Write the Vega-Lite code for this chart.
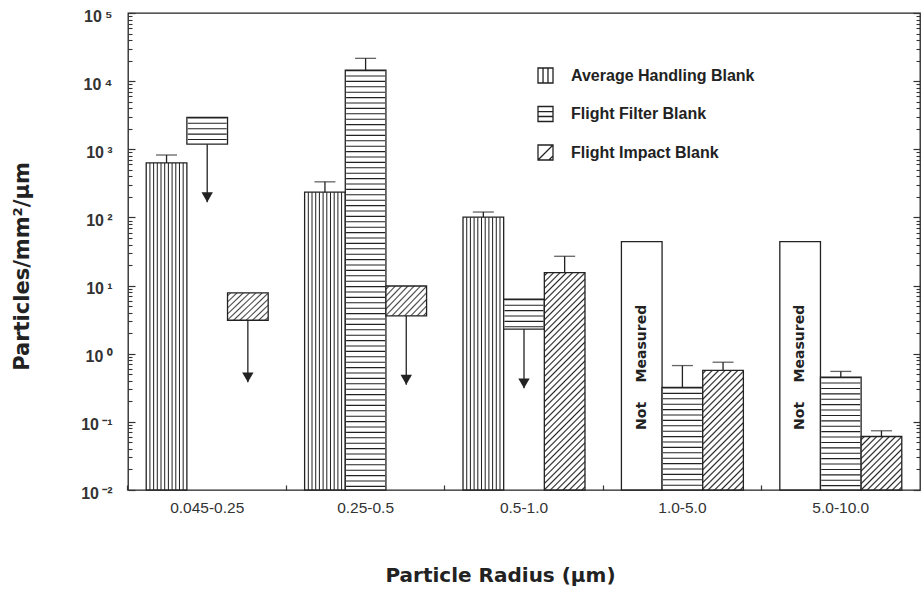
{
  "$schema": "https://vega.github.io/schema/vega-lite/v6.json",
  "width": 792,
  "height": 477,
  "autosize": {"type": "none"},
  "padding": {"left": 128, "top": 13, "right": 2, "bottom": 111},
  "background": "white",
  "config": {
    "view": {"stroke": "#222", "strokeWidth": 1.3},
    "axis": {"grid": false, "domain": false}
  },
  "data": {
    "values": [
      {"cat": "0.045-0.25", "series": "Average Handling Blank", "lo": 0.01, "hi": 630, "err": 824},
      {"cat": "0.045-0.25", "series": "Flight Filter Blank", "lo": 1190, "hi": 2940, "tip": 167},
      {"cat": "0.045-0.25", "series": "Flight Impact Blank", "lo": 3.1, "hi": 7.8, "tip": 0.38},
      {"cat": "0.25-0.5", "series": "Average Handling Blank", "lo": 0.01, "hi": 235, "err": 333},
      {"cat": "0.25-0.5", "series": "Flight Filter Blank", "lo": 0.01, "hi": 14550, "err": 21600},
      {"cat": "0.25-0.5", "series": "Flight Impact Blank", "lo": 3.6, "hi": 9.85, "tip": 0.35},
      {"cat": "0.5-1.0", "series": "Average Handling Blank", "lo": 0.01, "hi": 101, "err": 120},
      {"cat": "0.5-1.0", "series": "Flight Filter Blank", "lo": 2.3, "hi": 6.3, "tip": 0.31},
      {"cat": "0.5-1.0", "series": "Flight Impact Blank", "lo": 0.01, "hi": 15.5, "err": 26.9},
      {"cat": "1.0-5.0", "series": "Average Handling Blank", "lo": 0.01, "hi": 44, "note": "Not\u00a0\u00a0\u00a0\u00a0Measured"},
      {"cat": "1.0-5.0", "series": "Flight Filter Blank", "lo": 0.01, "hi": 0.32, "err": 0.67},
      {"cat": "1.0-5.0", "series": "Flight Impact Blank", "lo": 0.01, "hi": 0.57, "err": 0.75},
      {"cat": "5.0-10.0", "series": "Average Handling Blank", "lo": 0.01, "hi": 44, "note": "Not\u00a0\u00a0\u00a0\u00a0Measured"},
      {"cat": "5.0-10.0", "series": "Flight Filter Blank", "lo": 0.01, "hi": 0.454, "err": 0.55},
      {"cat": "5.0-10.0", "series": "Flight Impact Blank", "lo": 0.01, "hi": 0.061, "err": 0.074}
    ]
  },
  "resolve": {"axis": {"x": "independent", "y": "independent"}},
  "layer": [
    {
      "mark": {"type": "bar", "stroke": "#222", "strokeWidth": 1.3},
      "encoding": {
        "x": {
          "field": "cat", "type": "nominal",
          "scale": {"type": "band", "domain": ["0.045-0.25", "0.25-0.5", "0.5-1.0", "1.0-5.0", "5.0-10.0"], "paddingInner": 0.23, "paddingOuter": 0.115},
          "axis": {
            "orient": "bottom", "title": "Particle Radius (μm)",
            "labelFont": "Liberation Sans", "labelFontSize": 15.5, "labelColor": "#333", "labelAngle": 0,
            "labelBaseline": "top", "labelPadding": 10, "ticks": false,
            "domain": false,
            "titleFont": "DejaVu Sans", "titleFontSize": 20, "titleFontWeight": "bold", "titleColor": "#222",
            "titleX": 372, "titleY": 91, "titleBaseline": "alphabetic", "titleAlign": "center"
          }
        },
        "xOffset": {
          "field": "series", "type": "nominal",
          "scale": {"domain": ["Average Handling Blank", "Flight Filter Blank", "Flight Impact Blank"], "paddingInner": 0, "paddingOuter": 0}
        },
        "y": {
          "field": "hi", "type": "quantitative",
          "scale": {"type": "log", "domain": [0.01, 100000], "nice": false},
          "axis": {
            "orient": "left",
            "values": [0.01, 0.1, 1, 10, 100, 1000, 10000, 100000],
            "labelExpr": "'10\u2009' + ['⁻²','⁻¹','⁰','¹','²','³','⁴','⁵'][round(log(datum.value)/LN10)+2]",
            "labelFont": "Liberation Sans", "labelFontSize": 16, "labelFontWeight": "bold", "labelColor": "#333",
            "labelPadding": 23, "labelOffset": 3,
            "tickSize": -7, "tickColor": "#333", "tickWidth": 1.2,
            "title": "Particles/mm²/μm",
            "titleFont": "DejaVu Sans", "titleFontSize": 21, "titleFontWeight": "bold", "titleColor": "#222",
            "titleX": -100, "titleY": 253, "titleAngle": 270, "titleBaseline": "alphabetic", "titleAlign": "center"
          }
        },
        "y2": {"field": "lo"},
        "fill": {
          "condition": [
            {"test": "datum.series === 'Average Handling Blank' && !datum.note", "value": {"gradient": "linear", "x1": 0, "y1": 0, "x2": 1, "y2": 0, "stops": [
              {"offset": 0.0659, "color": "#fff"}, {"offset": 0.0909, "color": "#222"}, {"offset": 0.1159, "color": "#fff"},
              {"offset": 0.1568, "color": "#fff"}, {"offset": 0.1818, "color": "#222"}, {"offset": 0.2068, "color": "#fff"},
              {"offset": 0.2477, "color": "#fff"}, {"offset": 0.2727, "color": "#222"}, {"offset": 0.2977, "color": "#fff"},
              {"offset": 0.3386, "color": "#fff"}, {"offset": 0.3636, "color": "#222"}, {"offset": 0.3886, "color": "#fff"},
              {"offset": 0.4295, "color": "#fff"}, {"offset": 0.4545, "color": "#222"}, {"offset": 0.4795, "color": "#fff"},
              {"offset": 0.5205, "color": "#fff"}, {"offset": 0.5455, "color": "#222"}, {"offset": 0.5705, "color": "#fff"},
              {"offset": 0.6114, "color": "#fff"}, {"offset": 0.6364, "color": "#222"}, {"offset": 0.6614, "color": "#fff"},
              {"offset": 0.7023, "color": "#fff"}, {"offset": 0.7273, "color": "#222"}, {"offset": 0.7523, "color": "#fff"},
              {"offset": 0.7932, "color": "#fff"}, {"offset": 0.8182, "color": "#222"}, {"offset": 0.8432, "color": "#fff"},
              {"offset": 0.8841, "color": "#fff"}, {"offset": 0.9091, "color": "#222"}, {"offset": 0.9341, "color": "#fff"}
            ]}},
            {"test": "datum.series === 'Flight Impact Blank' && datum.cat === '0.5-1.0'", "value": {"gradient": "linear", "x1": 0, "y1": 0, "x2": 0.2147, "y2": 1.147, "stops": [
              {"offset": 0.0062, "color": "#fff"}, {"offset": 0.0122, "color": "#222"}, {"offset": 0.0182, "color": "#fff"},
              {"offset": 0.0306, "color": "#fff"}, {"offset": 0.0366, "color": "#222"}, {"offset": 0.0426, "color": "#fff"},
              {"offset": 0.0550, "color": "#fff"}, {"offset": 0.0610, "color": "#222"}, {"offset": 0.0670, "color": "#fff"},
              {"offset": 0.0794, "color": "#fff"}, {"offset": 0.0854, "color": "#222"}, {"offset": 0.0914, "color": "#fff"},
              {"offset": 0.1038, "color": "#fff"}, {"offset": 0.1098, "color": "#222"}, {"offset": 0.1158, "color": "#fff"},
              {"offset": 0.1281, "color": "#fff"}, {"offset": 0.1341, "color": "#222"}, {"offset": 0.1401, "color": "#fff"},
              {"offset": 0.1525, "color": "#fff"}, {"offset": 0.1585, "color": "#222"}, {"offset": 0.1645, "color": "#fff"},
              {"offset": 0.1769, "color": "#fff"}, {"offset": 0.1829, "color": "#222"}, {"offset": 0.1889, "color": "#fff"},
              {"offset": 0.2013, "color": "#fff"}, {"offset": 0.2073, "color": "#222"}, {"offset": 0.2133, "color": "#fff"},
              {"offset": 0.2257, "color": "#fff"}, {"offset": 0.2317, "color": "#222"}, {"offset": 0.2377, "color": "#fff"},
              {"offset": 0.2501, "color": "#fff"}, {"offset": 0.2561, "color": "#222"}, {"offset": 0.2621, "color": "#fff"},
              {"offset": 0.2745, "color": "#fff"}, {"offset": 0.2805, "color": "#222"}, {"offset": 0.2865, "color": "#fff"},
              {"offset": 0.2989, "color": "#fff"}, {"offset": 0.3049, "color": "#222"}, {"offset": 0.3109, "color": "#fff"},
              {"offset": 0.3233, "color": "#fff"}, {"offset": 0.3293, "color": "#222"}, {"offset": 0.3353, "color": "#fff"},
              {"offset": 0.3477, "color": "#fff"}, {"offset": 0.3537, "color": "#222"}, {"offset": 0.3597, "color": "#fff"},
              {"offset": 0.3720, "color": "#fff"}, {"offset": 0.3780, "color": "#222"}, {"offset": 0.3840, "color": "#fff"},
              {"offset": 0.3964, "color": "#fff"}, {"offset": 0.4024, "color": "#222"}, {"offset": 0.4084, "color": "#fff"},
              {"offset": 0.4208, "color": "#fff"}, {"offset": 0.4268, "color": "#222"}, {"offset": 0.4328, "color": "#fff"},
              {"offset": 0.4452, "color": "#fff"}, {"offset": 0.4512, "color": "#222"}, {"offset": 0.4572, "color": "#fff"},
              {"offset": 0.4696, "color": "#fff"}, {"offset": 0.4756, "color": "#222"}, {"offset": 0.4816, "color": "#fff"},
              {"offset": 0.4940, "color": "#fff"}, {"offset": 0.5000, "color": "#222"}, {"offset": 0.5060, "color": "#fff"},
              {"offset": 0.5184, "color": "#fff"}, {"offset": 0.5244, "color": "#222"}, {"offset": 0.5304, "color": "#fff"},
              {"offset": 0.5428, "color": "#fff"}, {"offset": 0.5488, "color": "#222"}, {"offset": 0.5548, "color": "#fff"},
              {"offset": 0.5672, "color": "#fff"}, {"offset": 0.5732, "color": "#222"}, {"offset": 0.5792, "color": "#fff"},
              {"offset": 0.5916, "color": "#fff"}, {"offset": 0.5976, "color": "#222"}, {"offset": 0.6036, "color": "#fff"},
              {"offset": 0.6160, "color": "#fff"}, {"offset": 0.6220, "color": "#222"}, {"offset": 0.6280, "color": "#fff"},
              {"offset": 0.6403, "color": "#fff"}, {"offset": 0.6463, "color": "#222"}, {"offset": 0.6523, "color": "#fff"},
              {"offset": 0.6647, "color": "#fff"}, {"offset": 0.6707, "color": "#222"}, {"offset": 0.6767, "color": "#fff"},
              {"offset": 0.6891, "color": "#fff"}, {"offset": 0.6951, "color": "#222"}, {"offset": 0.7011, "color": "#fff"},
              {"offset": 0.7135, "color": "#fff"}, {"offset": 0.7195, "color": "#222"}, {"offset": 0.7255, "color": "#fff"},
              {"offset": 0.7379, "color": "#fff"}, {"offset": 0.7439, "color": "#222"}, {"offset": 0.7499, "color": "#fff"},
              {"offset": 0.7623, "color": "#fff"}, {"offset": 0.7683, "color": "#222"}, {"offset": 0.7743, "color": "#fff"},
              {"offset": 0.7867, "color": "#fff"}, {"offset": 0.7927, "color": "#222"}, {"offset": 0.7987, "color": "#fff"},
              {"offset": 0.8111, "color": "#fff"}, {"offset": 0.8171, "color": "#222"}, {"offset": 0.8231, "color": "#fff"},
              {"offset": 0.8355, "color": "#fff"}, {"offset": 0.8415, "color": "#222"}, {"offset": 0.8475, "color": "#fff"},
              {"offset": 0.8599, "color": "#fff"}, {"offset": 0.8659, "color": "#222"}, {"offset": 0.8719, "color": "#fff"},
              {"offset": 0.8842, "color": "#fff"}, {"offset": 0.8902, "color": "#222"}, {"offset": 0.8962, "color": "#fff"},
              {"offset": 0.9086, "color": "#fff"}, {"offset": 0.9146, "color": "#222"}, {"offset": 0.9206, "color": "#fff"},
              {"offset": 0.9330, "color": "#fff"}, {"offset": 0.9390, "color": "#222"}, {"offset": 0.9450, "color": "#fff"},
              {"offset": 0.9574, "color": "#fff"}, {"offset": 0.9634, "color": "#222"}, {"offset": 0.9694, "color": "#fff"},
              {"offset": 0.9818, "color": "#fff"}, {"offset": 0.9878, "color": "#222"}, {"offset": 0.9938, "color": "#fff"}
            ]}},
            {"test": "datum.series === 'Flight Impact Blank' && datum.cat === '1.0-5.0'", "value": {"gradient": "linear", "x1": 0, "y1": 0, "x2": 0.4088, "y2": 1.2013, "stops": [
              {"offset": 0.01, "color": "#fff"}, {"offset": 0.02, "color": "#222"}, {"offset": 0.03, "color": "#fff"},
              {"offset": 0.05, "color": "#fff"}, {"offset": 0.06, "color": "#222"}, {"offset": 0.07, "color": "#fff"},
              {"offset": 0.09, "color": "#fff"}, {"offset": 0.10, "color": "#222"}, {"offset": 0.11, "color": "#fff"},
              {"offset": 0.13, "color": "#fff"}, {"offset": 0.14, "color": "#222"}, {"offset": 0.15, "color": "#fff"},
              {"offset": 0.17, "color": "#fff"}, {"offset": 0.18, "color": "#222"}, {"offset": 0.19, "color": "#fff"},
              {"offset": 0.21, "color": "#fff"}, {"offset": 0.22, "color": "#222"}, {"offset": 0.23, "color": "#fff"},
              {"offset": 0.25, "color": "#fff"}, {"offset": 0.26, "color": "#222"}, {"offset": 0.27, "color": "#fff"},
              {"offset": 0.29, "color": "#fff"}, {"offset": 0.30, "color": "#222"}, {"offset": 0.31, "color": "#fff"},
              {"offset": 0.33, "color": "#fff"}, {"offset": 0.34, "color": "#222"}, {"offset": 0.35, "color": "#fff"},
              {"offset": 0.37, "color": "#fff"}, {"offset": 0.38, "color": "#222"}, {"offset": 0.39, "color": "#fff"},
              {"offset": 0.41, "color": "#fff"}, {"offset": 0.42, "color": "#222"}, {"offset": 0.43, "color": "#fff"},
              {"offset": 0.45, "color": "#fff"}, {"offset": 0.46, "color": "#222"}, {"offset": 0.47, "color": "#fff"},
              {"offset": 0.49, "color": "#fff"}, {"offset": 0.50, "color": "#222"}, {"offset": 0.51, "color": "#fff"},
              {"offset": 0.53, "color": "#fff"}, {"offset": 0.54, "color": "#222"}, {"offset": 0.55, "color": "#fff"},
              {"offset": 0.57, "color": "#fff"}, {"offset": 0.58, "color": "#222"}, {"offset": 0.59, "color": "#fff"},
              {"offset": 0.61, "color": "#fff"}, {"offset": 0.62, "color": "#222"}, {"offset": 0.63, "color": "#fff"},
              {"offset": 0.65, "color": "#fff"}, {"offset": 0.66, "color": "#222"}, {"offset": 0.67, "color": "#fff"},
              {"offset": 0.69, "color": "#fff"}, {"offset": 0.70, "color": "#222"}, {"offset": 0.71, "color": "#fff"},
              {"offset": 0.73, "color": "#fff"}, {"offset": 0.74, "color": "#222"}, {"offset": 0.75, "color": "#fff"},
              {"offset": 0.77, "color": "#fff"}, {"offset": 0.78, "color": "#222"}, {"offset": 0.79, "color": "#fff"},
              {"offset": 0.81, "color": "#fff"}, {"offset": 0.82, "color": "#222"}, {"offset": 0.83, "color": "#fff"},
              {"offset": 0.85, "color": "#fff"}, {"offset": 0.86, "color": "#222"}, {"offset": 0.87, "color": "#fff"},
              {"offset": 0.89, "color": "#fff"}, {"offset": 0.90, "color": "#222"}, {"offset": 0.91, "color": "#fff"},
              {"offset": 0.93, "color": "#fff"}, {"offset": 0.94, "color": "#222"}, {"offset": 0.95, "color": "#fff"},
              {"offset": 0.97, "color": "#fff"}, {"offset": 0.98, "color": "#222"}, {"offset": 0.99, "color": "#fff"}
            ]}},
            {"test": "datum.series === 'Flight Impact Blank' && datum.cat === '5.0-10.0'", "value": {"gradient": "linear", "x1": 0, "y1": 0, "x2": 0.8486, "y2": 1.1155, "stops": [
              {"offset": 0.0163, "color": "#fff"}, {"offset": 0.0333, "color": "#222"}, {"offset": 0.0503, "color": "#fff"},
              {"offset": 0.0830, "color": "#fff"}, {"offset": 0.1000, "color": "#222"}, {"offset": 0.1170, "color": "#fff"},
              {"offset": 0.1497, "color": "#fff"}, {"offset": 0.1667, "color": "#222"}, {"offset": 0.1837, "color": "#fff"},
              {"offset": 0.2163, "color": "#fff"}, {"offset": 0.2333, "color": "#222"}, {"offset": 0.2503, "color": "#fff"},
              {"offset": 0.2830, "color": "#fff"}, {"offset": 0.3000, "color": "#222"}, {"offset": 0.3170, "color": "#fff"},
              {"offset": 0.3497, "color": "#fff"}, {"offset": 0.3667, "color": "#222"}, {"offset": 0.3837, "color": "#fff"},
              {"offset": 0.4163, "color": "#fff"}, {"offset": 0.4333, "color": "#222"}, {"offset": 0.4503, "color": "#fff"},
              {"offset": 0.4830, "color": "#fff"}, {"offset": 0.5000, "color": "#222"}, {"offset": 0.5170, "color": "#fff"},
              {"offset": 0.5497, "color": "#fff"}, {"offset": 0.5667, "color": "#222"}, {"offset": 0.5837, "color": "#fff"},
              {"offset": 0.6163, "color": "#fff"}, {"offset": 0.6333, "color": "#222"}, {"offset": 0.6503, "color": "#fff"},
              {"offset": 0.6830, "color": "#fff"}, {"offset": 0.7000, "color": "#222"}, {"offset": 0.7170, "color": "#fff"},
              {"offset": 0.7497, "color": "#fff"}, {"offset": 0.7667, "color": "#222"}, {"offset": 0.7837, "color": "#fff"},
              {"offset": 0.8163, "color": "#fff"}, {"offset": 0.8333, "color": "#222"}, {"offset": 0.8503, "color": "#fff"},
              {"offset": 0.8830, "color": "#fff"}, {"offset": 0.9000, "color": "#222"}, {"offset": 0.9170, "color": "#fff"},
              {"offset": 0.9497, "color": "#fff"}, {"offset": 0.9667, "color": "#222"}, {"offset": 0.9837, "color": "#fff"}
            ]}},
            {"test": "datum.series === 'Flight Impact Blank'", "value": {"gradient": "linear", "x1": 0, "y1": 0, "x2": 1.14, "y2": 0.8, "stops": [
              {"offset": 0.0235, "color": "#fff"}, {"offset": 0.0455, "color": "#444"}, {"offset": 0.0675, "color": "#fff"},
              {"offset": 0.1144, "color": "#fff"}, {"offset": 0.1364, "color": "#444"}, {"offset": 0.1584, "color": "#fff"},
              {"offset": 0.2053, "color": "#fff"}, {"offset": 0.2273, "color": "#444"}, {"offset": 0.2493, "color": "#fff"},
              {"offset": 0.2962, "color": "#fff"}, {"offset": 0.3182, "color": "#444"}, {"offset": 0.3402, "color": "#fff"},
              {"offset": 0.3871, "color": "#fff"}, {"offset": 0.4091, "color": "#444"}, {"offset": 0.4311, "color": "#fff"},
              {"offset": 0.4780, "color": "#fff"}, {"offset": 0.5000, "color": "#444"}, {"offset": 0.5220, "color": "#fff"},
              {"offset": 0.5689, "color": "#fff"}, {"offset": 0.5909, "color": "#444"}, {"offset": 0.6129, "color": "#fff"},
              {"offset": 0.6598, "color": "#fff"}, {"offset": 0.6818, "color": "#444"}, {"offset": 0.7038, "color": "#fff"},
              {"offset": 0.7507, "color": "#fff"}, {"offset": 0.7727, "color": "#444"}, {"offset": 0.7947, "color": "#fff"},
              {"offset": 0.8416, "color": "#fff"}, {"offset": 0.8636, "color": "#444"}, {"offset": 0.8856, "color": "#fff"},
              {"offset": 0.9325, "color": "#fff"}, {"offset": 0.9545, "color": "#444"}, {"offset": 0.9765, "color": "#fff"}
            ]}}
          ],
          "value": "#fff"
        }
      }
    },
    {
      "transform": [{"filter": "datum.series === 'Flight Filter Blank'"}],
      "mark": {"type": "rule", "strokeWidth": 39, "strokeDash": [1.1, 4.3], "color": "#222"},
      "encoding": {
        "x": {
          "field": "cat", "type": "nominal",
          "axis": {"orient": "bottom", "bandPosition": -0.15, "labels": false, "title": null, "domain": false, "tickSize": -5, "tickColor": "#333", "tickWidth": 1.2}
        },
        "xOffset": {"field": "series", "type": "nominal"},
        "y": {
          "field": "hi", "type": "quantitative", "scale": {"type": "log"},
          "axis": {
            "orient": "left", "labels": false, "title": null, "domain": false,
            "values": [0.02,0.03,0.04,0.05,0.06,0.07,0.08,0.09,0.2,0.3,0.4,0.5,0.6,0.7,0.8,0.9,2,3,4,5,6,7,8,9,20,30,40,50,60,70,80,90,200,300,400,500,600,700,800,900,2000,3000,4000,5000,6000,7000,8000,9000,20000,30000,40000,50000,60000,70000,80000,90000],
            "tickSize": -4, "tickColor": "#333", "tickWidth": 1.1
          }
        },
        "y2": {"field": "lo"}
      }
    },
    {
      "transform": [{"filter": "isValid(datum.err)"}],
      "mark": {"type": "rule", "strokeWidth": 1.3, "color": "#222"},
      "encoding": {
        "x": {"field": "cat", "type": "nominal", "axis": null},
        "xOffset": {"field": "series", "type": "nominal"},
        "y": {
          "field": "hi", "type": "quantitative", "scale": {"type": "log"},
          "axis": {
            "orient": "right", "labels": false, "title": null, "domain": false,
            "values": [0.01, 0.1, 1, 10, 100, 1000, 10000, 100000],
            "tickSize": -7, "tickColor": "#333", "tickWidth": 1.2
          }
        },
        "y2": {"field": "err"}
      }
    },
    {
      "transform": [{"filter": "isValid(datum.err)"}],
      "mark": {"type": "tick", "orient": "horizontal", "size": 21, "thickness": 1.3, "color": "#222"},
      "encoding": {
        "x": {"field": "cat", "type": "nominal", "axis": null},
        "xOffset": {"field": "series", "type": "nominal"},
        "y": {
          "field": "err", "type": "quantitative", "scale": {"type": "log"},
          "axis": {
            "orient": "right", "labels": false, "title": null, "domain": false,
            "values": [0.02,0.03,0.04,0.05,0.06,0.07,0.08,0.09,0.2,0.3,0.4,0.5,0.6,0.7,0.8,0.9,2,3,4,5,6,7,8,9,20,30,40,50,60,70,80,90,200,300,400,500,600,700,800,900,2000,3000,4000,5000,6000,7000,8000,9000,20000,30000,40000,50000,60000,70000,80000,90000],
            "tickSize": -4, "tickColor": "#333", "tickWidth": 1.1
          }
        }
      }
    },
    {
      "transform": [{"filter": "isValid(datum.tip)"}],
      "mark": {"type": "rule", "strokeWidth": 1.3, "color": "#222"},
      "encoding": {
        "x": {"field": "cat", "type": "nominal", "axis": null},
        "xOffset": {"field": "series", "type": "nominal"},
        "y": {"field": "lo", "type": "quantitative", "scale": {"type": "log"}, "axis": null},
        "y2": {"field": "tip"}
      }
    },
    {
      "transform": [{"filter": "isValid(datum.tip)"}],
      "mark": {"type": "point", "shape": "triangle-down", "filled": true, "size": 130, "color": "#222", "opacity": 1, "yOffset": -5},
      "encoding": {
        "x": {"field": "cat", "type": "nominal", "axis": null},
        "xOffset": {"field": "series", "type": "nominal"},
        "y": {"field": "tip", "type": "quantitative", "scale": {"type": "log"}, "axis": null}
      }
    },
    {
      "mark": {"type": "point", "filled": false, "color": "#222", "opacity": 0, "size": 4},
      "encoding": {
        "x": {"field": "cat", "type": "nominal", "axis": null},
        "xOffset": {"field": "series", "type": "nominal"},
        "y": {"field": "hi", "type": "quantitative", "scale": {"type": "log"}, "axis": null},
        "shape": {
          "field": "series", "type": "nominal",
          "scale": {
            "domain": ["Average Handling Blank", "Flight Filter Blank", "Flight Impact Blank"],
            "range": [
              "M-1,-1H1V1H-1Z M-0.33,-1V1 M0.33,-1V1",
              "M-1,-1H1V1H-1Z M-1,-0.33H1 M-1,0.33H1",
              "M-1,-1H1V1H-1Z M-1,1L1,-1 M0.45,1L1,0.45"
            ]
          },
          "legend": {
            "orient": "none", "legendX": 409, "legendY": 54, "title": null,
            "symbolSize": 225, "symbolStrokeColor": "#222", "symbolStrokeWidth": 1.3,
            "symbolFillColor": "#fff", "symbolOpacity": 1,
            "labelFont": "Liberation Sans", "labelFontSize": 16, "labelFontWeight": "bold", "labelColor": "#222",
            "labelOffset": 17, "rowPadding": 17.5, "labelLimit": 400
          }
        }
      }
    },
    {
      "transform": [{"filter": "isValid(datum.note)"}],
      "mark": {"type": "text", "angle": 270, "font": "DejaVu Sans", "fontSize": 14, "fontWeight": "bold", "color": "#222", "align": "center", "baseline": "middle"},
      "encoding": {
        "x": {"field": "cat", "type": "nominal", "axis": null},
        "xOffset": {"field": "series", "type": "nominal"},
        "y": {"datum": 0.63, "type": "quantitative", "scale": {"type": "log"}, "axis": null},
        "text": {"field": "note"}
      }
    }
  ]
}
